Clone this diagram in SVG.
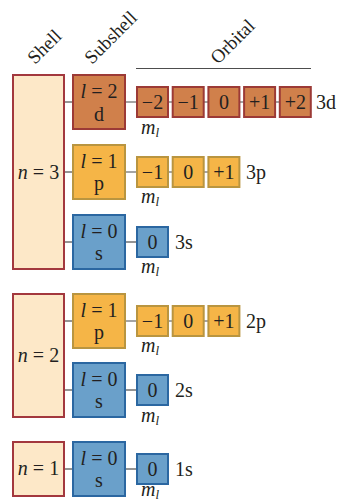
<svg xmlns="http://www.w3.org/2000/svg" width="339" height="502" viewBox="0 0 339 502">
<style>
text{font-family:"Liberation Serif","Times New Roman",serif;fill:#231f20;}
.t{font-size:20px;text-anchor:middle;}
.h{font-size:19px;}
.lab{font-size:20px;}
.it{font-style:italic;}
.ml{font-size:20px;font-style:italic;}
.sub{font-size:13px;font-style:italic;}
.shell{fill:#fde8c8;stroke:#a3383e;stroke-width:2;}
.d{fill:#d0804b;stroke:#9c3a36;stroke-width:2;}
.p{fill:#f5b547;stroke:#b99540;stroke-width:2;}
.s{fill:#6aa0ca;stroke:#2b67a1;stroke-width:2;}
.c{stroke:#4d4d4d;stroke-width:1.2;fill:none;}
</style>
<g id="headers">
<text class="h" transform="translate(35,65) rotate(-45)">Shell</text>
<text class="h" transform="translate(92,65) rotate(-45)">Subshell</text>
<text class="h" transform="translate(218,65) rotate(-45)">Orbital</text>
<line x1="136" y1="68.5" x2="311" y2="68.5" class="c"/>
</g>
<g id="connectors">
<line class="c" x1="65" y1="102" x2="72" y2="102"/>
<line class="c" x1="65" y1="172" x2="72" y2="172"/>
<line class="c" x1="65" y1="242" x2="72" y2="242"/>
<line class="c" x1="65" y1="321" x2="72" y2="321"/>
<line class="c" x1="65" y1="390" x2="72" y2="390"/>
<line class="c" x1="65" y1="469" x2="72" y2="469"/>
<line class="c" x1="126" y1="102" x2="279" y2="102"/>
<line class="c" x1="126" y1="172" x2="208" y2="172"/>
<line class="c" x1="126" y1="242" x2="137" y2="242"/>
<line class="c" x1="126" y1="321" x2="208" y2="321"/>
<line class="c" x1="126" y1="390" x2="137" y2="390"/>
<line class="c" x1="126" y1="469" x2="137" y2="469"/>
</g>
<g id="shell-n3"><rect class="shell" x="13" y="75" width="51" height="194"/><text class="t" x="38.5" y="179"><tspan class="it">n</tspan> = 3</text></g>
<g id="shell-n2"><rect class="shell" x="13" y="294" width="51" height="123"/><text class="t" x="38.5" y="362"><tspan class="it">n</tspan> = 2</text></g>
<g id="shell-n1"><rect class="shell" x="13" y="442" width="51" height="54"/><text class="t" x="38.5" y="475"><tspan class="it">n</tspan> = 1</text></g>

<g id="sub-3d"><rect class="d" x="73" y="75" width="52" height="54"/><text class="t" x="99" y="98"><tspan class="it">l</tspan> = 2</text><text class="t" x="99" y="121">d</text></g>
<g id="sub-3p"><rect class="p" x="73" y="145" width="52" height="54"/><text class="t" x="99" y="168"><tspan class="it">l</tspan> = 1</text><text class="t" x="99" y="190">p</text></g>
<g id="sub-3s"><rect class="s" x="73" y="215" width="52" height="54"/><text class="t" x="99" y="238"><tspan class="it">l</tspan> = 0</text><text class="t" x="99" y="260">s</text></g>
<g id="sub-2p"><rect class="p" x="73" y="294" width="52" height="54"/><text class="t" x="99" y="317"><tspan class="it">l</tspan> = 1</text><text class="t" x="99" y="339">p</text></g>
<g id="sub-2s"><rect class="s" x="73" y="363" width="52" height="54"/><text class="t" x="99" y="386"><tspan class="it">l</tspan> = 0</text><text class="t" x="99" y="408">s</text></g>
<g id="sub-1s"><rect class="s" x="73" y="442" width="52" height="54"/><text class="t" x="99" y="465"><tspan class="it">l</tspan> = 0</text><text class="t" x="99" y="487">s</text></g>

<g id="orb-3d">
<rect class="d" x="137" y="87" width="31" height="30"/><text class="t" x="152.5" y="109">−2</text>
<rect class="d" x="172.7" y="87" width="31" height="30"/><text class="t" x="188.2" y="109">−1</text>
<rect class="d" x="208.4" y="87" width="31" height="30"/><text class="t" x="223.9" y="109">0</text>
<rect class="d" x="244.1" y="87" width="31" height="30"/><text class="t" x="259.6" y="109">+1</text>
<rect class="d" x="279.8" y="87" width="31" height="30"/><text class="t" x="295.3" y="109">+2</text>
<text class="lab" x="316" y="109">3d</text>
<text class="ml" x="141" y="134">m<tspan class="sub" dy="3">l</tspan></text>
</g>
<g id="orb-3p">
<rect class="p" x="137" y="157" width="31" height="30"/><text class="t" x="152.5" y="179">−1</text>
<rect class="p" x="172.7" y="157" width="31" height="30"/><text class="t" x="188.2" y="179">0</text>
<rect class="p" x="208.4" y="157" width="31" height="30"/><text class="t" x="223.9" y="179">+1</text>
<text class="lab" x="246" y="179">3p</text>
<text class="ml" x="141" y="203">m<tspan class="sub" dy="3">l</tspan></text>
</g>
<g id="orb-3s">
<rect class="s" x="137" y="227" width="31" height="30"/><text class="t" x="152.5" y="249">0</text>
<text class="lab" x="175" y="249">3s</text>
<text class="ml" x="141" y="273">m<tspan class="sub" dy="3">l</tspan></text>
</g>
<g id="orb-2p">
<rect class="p" x="137" y="306" width="31" height="30"/><text class="t" x="152.5" y="328">−1</text>
<rect class="p" x="172.7" y="306" width="31" height="30"/><text class="t" x="188.2" y="328">0</text>
<rect class="p" x="208.4" y="306" width="31" height="30"/><text class="t" x="223.9" y="328">+1</text>
<text class="lab" x="246" y="328">2p</text>
<text class="ml" x="141" y="352">m<tspan class="sub" dy="3">l</tspan></text>
</g>
<g id="orb-2s">
<rect class="s" x="137" y="375" width="31" height="30"/><text class="t" x="152.5" y="397">0</text>
<text class="lab" x="175" y="397">2s</text>
<text class="ml" x="141" y="422">m<tspan class="sub" dy="3">l</tspan></text>
</g>
<g id="orb-1s">
<rect class="s" x="137" y="454" width="31" height="30"/><text class="t" x="152.5" y="476">0</text>
<text class="lab" x="175" y="476">1s</text>
<text class="ml" x="141" y="496">m<tspan class="sub" dy="3">l</tspan></text>
</g>
</svg>
